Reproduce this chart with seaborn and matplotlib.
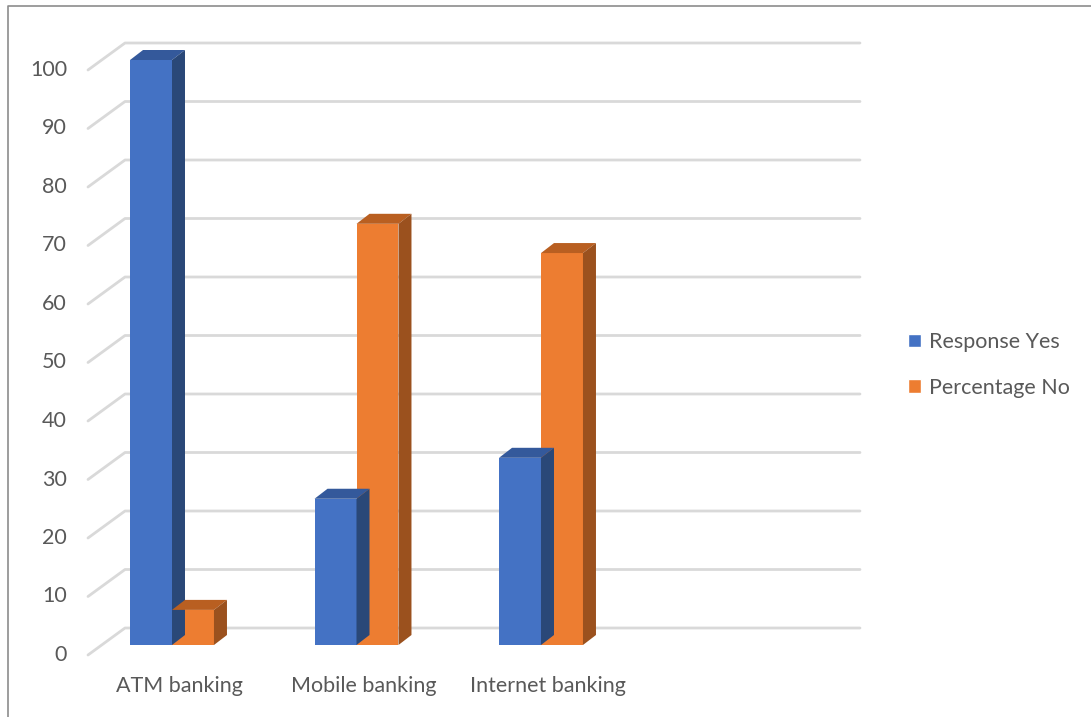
import numpy as np
import pandas as pd
import seaborn as sns
import matplotlib
matplotlib.use("Agg")
import matplotlib.pyplot as plt
from matplotlib.patches import Polygon, Patch
from matplotlib.lines import Line2D
from matplotlib.transforms import ScaledTranslation, IdentityTransform

# ---- data ----
categories = ["ATM banking", "Mobile banking", "Internet banking"]
series_names = ["Response Yes", "Percentage No"]
yes_values = [100, 25, 32]
no_values = [6, 72, 67]
y_ticks = list(range(0, 101, 10))

colors_front = ["#4472C4", "#ED7D31"]
colors_top = ["#34599B", "#B95F21"]
colors_side = ["#2A4878", "#9B511E"]
text_color = "#595959"
grid_color = "#D9D9D9"

W, H = 1091, 717
sns.set_style("white")
plt.rcParams["font.family"] = ["Lato", "DejaVu Sans"]
FS = 15.5

df = pd.DataFrame({
    "category": categories * 2,
    "series": [series_names[0]] * 3 + [series_names[1]] * 3,
    "value": yes_values + no_values,
})

fig = plt.figure(figsize=(W / 100, H / 100), dpi=100)
# bar plane axes (pixel geometry of the reference)
L, R, YB, YT = 103, 838, 645, 60
ax = fig.add_axes([L / W, (H - YB) / H, (R - L) / W, (YB - YT) / H])
ax.patch.set_alpha(0)

sns.barplot(data=df, x="category", y="value", hue="series", order=categories,
            hue_order=series_names, palette=colors_front, width=0.455, gap=0,
            linewidth=0, saturation=1, legend=False, ax=ax, zorder=2)

step = 184.5
x0lim, x1lim = (L - 172) / step, (R - 172) / step
ax.set_xlim(x0lim, x1lim)
ax.set_ylim(0, 100)
ax.set_xticks([])
ax.set_yticks([])
ax.set_xlabel("")
ax.set_ylabel("")
for s in ax.spines.values():
    s.set_visible(False)

T = ax.transData
ident = IdentityTransform()

# back wall gridlines with left-wall diagonals
front_off = np.array([-15, -10])
back_off = np.array([22, 17])
for v in y_ticks:
    p = T.transform((x0lim, v))
    q = T.transform((x1lim, v))
    f = p + front_off
    b = p + back_off
    r = q + back_off
    ax.add_line(Line2D([f[0], b[0], r[0]], [f[1], b[1], r[1]], color=grid_color,
                       lw=2, transform=ident, clip_on=False, zorder=0.5))
    ax.text(x0lim, v, str(v), ha="right", va="center", fontsize=FS, color=text_color,
            transform=T + ScaledTranslation(-36 / 100, -10 / 100, fig.dpi_scale_trans))

# 3D faces for bars
d = np.array([13, 10])
for si, cont in enumerate(ax.containers):
    for bar in cont:
        bx0 = bar.get_x()
        bx1 = bx0 + bar.get_width()
        h = bar.get_height()
        tl = T.transform((bx0, h))
        tr = T.transform((bx1, h))
        br = T.transform((bx1, 0))
        top = Polygon([tl, tr, tr + d, tl + d], closed=True, facecolor=colors_top[si],
                      edgecolor="none", transform=ident, clip_on=False, zorder=2)
        side = Polygon([br, tr, tr + d, br + d], closed=True, facecolor=colors_side[si],
                       edgecolor="none", transform=ident, clip_on=False, zorder=2)
        ax.add_patch(top)
        ax.add_patch(side)

# category labels
for i, c in enumerate(categories):
    ax.text(i, 0, c, ha="center", va="center", fontsize=FS, color=text_color,
            transform=T + ScaledTranslation(7 / 100, -41 / 100, fig.dpi_scale_trans))

# legend
handles = [Patch(facecolor=colors_front[0]), Patch(facecolor=colors_front[1])]
leg = fig.legend(handles, series_names, loc="center left",
                 bbox_to_anchor=(889 / W, 1 - 365 / H), frameon=False, fontsize=FS,
                 handlelength=0.6, handleheight=0.6, labelspacing=1.2,
                 handletextpad=0.35)
for t in leg.get_texts():
    t.set_color(text_color)

# outer border (top and left visible)
fig.add_artist(Line2D([8 / W, 8 / W, 1.01], [-0.01, 1 - 5.5 / H, 1 - 5.5 / H],
                      color="#8C8C8C", lw=1.2, transform=fig.transFigure))

fig.savefig("out.png", dpi=100)
